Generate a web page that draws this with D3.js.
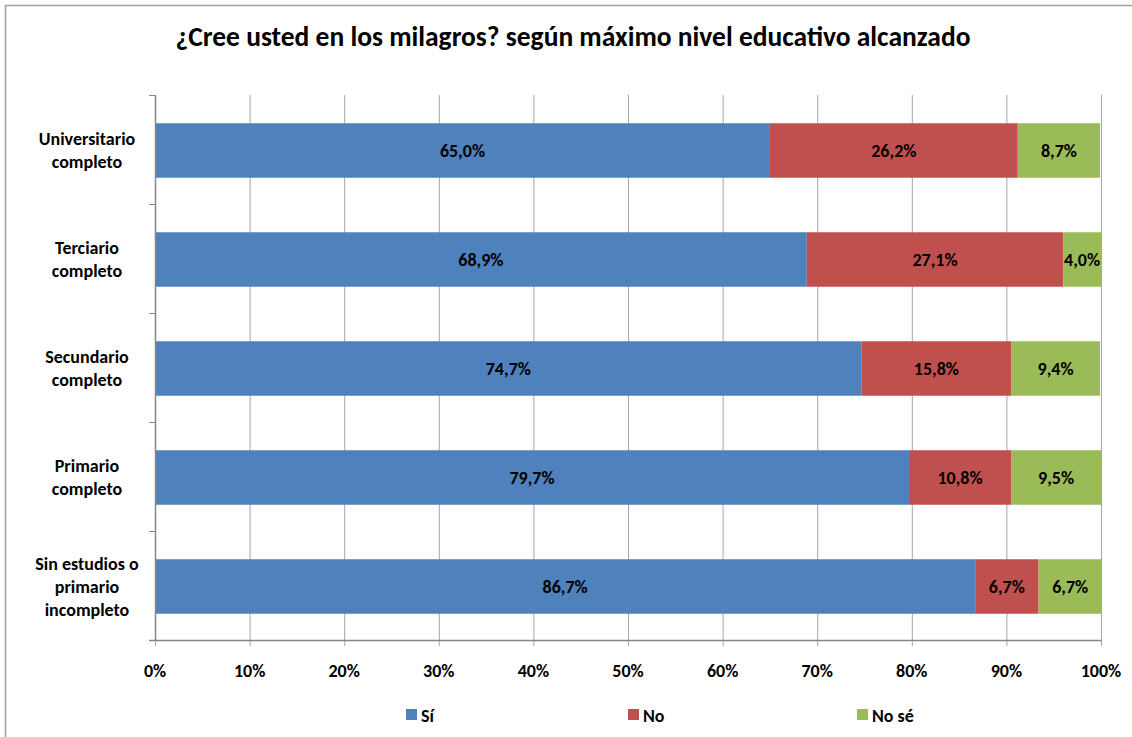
<!DOCTYPE html>
<html><head><meta charset="utf-8">
<script src="https://cdn.jsdelivr.net/npm/d3@7"></script>
<style>
body{margin:0;background:#fff;}
svg{display:block;font-family:Carlito,Calibri,Lato,"Open Sans",sans-serif;font-weight:bold;}
</style></head>
<body><svg id="c" width="1132" height="737"></svg>
<script>
const categories = [["Universitario","completo"],["Terciario","completo"],["Secundario","completo"],["Primario","completo"],["Sin estudios o","primario","incompleto"]];
const seriesNames = ["Sí","No","No sé"];
const si   = [65.0, 68.9, 74.7, 79.7, 86.7];
const no   = [26.2, 27.1, 15.8, 10.8, 6.7];
const nose = [8.7, 4.0, 9.4, 9.5, 6.7];
const colors = ["#4F81BD","#C0504D","#9BBB59"];
const xTicks = [0,10,20,30,40,50,60,70,80,90,100];
const title = "¿Cree usted en los milagros? según máximo nivel educativo alcanzado";

const svg = d3.select("#c");
svg.append("path").attr("d","M5.5,737 L5.5,5.5 L1132,5.5").attr("fill","none").attr("stroke","#A0A0A0").attr("stroke-width",1.5);

const L=155, R=1101, T=95, B=640;
const x = d3.scaleLinear().domain([0,100]).range([L,R]);
const idx = d3.range(categories.length);
const y = d3.scaleBand().domain(idx).range([T,B]).paddingInner(0.5).paddingOuter(0.25);

svg.append("text").attr("x",573).attr("y",46).attr("text-anchor","middle").attr("font-size",27.5).attr("fill","#000").text(title);

svg.append("g").selectAll("line").data(xTicks).join("line")
  .attr("x1",d=>x(d)+0.5).attr("x2",d=>x(d)+0.5).attr("y1",T).attr("y2",B+6)
  .attr("stroke","#A6A6A6").attr("stroke-width",1);

const data = idx.map(i=>({i, "Sí":si[i], "No":no[i], "No sé":nose[i]}));
const stack = d3.stack().keys(seriesNames)(data);
const g = svg.append("g");
stack.forEach((s,k)=>{
  g.selectAll(null).data(s).join("rect")
   .attr("x",d=>x(d[0])).attr("width",d=>x(d[1])-x(d[0]))
   .attr("y",d=>y(d.data.i)+1).attr("height",y.bandwidth())
   .attr("fill",colors[k]);
  g.selectAll(null).data(s).join("text")
   .attr("x",d=>(x(d[0])+x(d[1]))/2).attr("y",d=>y(d.data.i)+y.bandwidth()/2+7)
   .attr("text-anchor","middle").attr("font-size",18).attr("fill","#000")
   .text(d=>(d[1]-d[0]).toFixed(1).replace(".",",")+"%");
});

svg.append("line").attr("x1",L+0.5).attr("x2",L+0.5).attr("y1",T).attr("y2",B).attr("stroke","#868686").attr("stroke-width",1.5);
const yTickPos = d3.range(categories.length+1).map(k=>T+k*(B-T)/categories.length);
svg.append("g").selectAll("line").data(yTickPos).join("line")
  .attr("x1",L-6).attr("x2",L).attr("y1",d=>d+0.5).attr("y2",d=>d+0.5).attr("stroke","#868686");
svg.append("line").attr("x1",L-6).attr("x2",R+1).attr("y1",B+0.5).attr("y2",B+0.5).attr("stroke","#868686").attr("stroke-width",1.5);
svg.append("g").selectAll("text").data(xTicks).join("text")
  .attr("x",d=>x(d)).attr("y",677).attr("text-anchor","middle").attr("font-size",18).attr("fill","#000")
  .text(d=>d+"%");

idx.forEach(i=>{
  const lines = categories[i];
  const cy = y(i)+y.bandwidth()/2;
  const lh = 23;
  const t = svg.append("text").attr("text-anchor","middle").attr("font-size",18).attr("fill","#000");
  lines.forEach((ln,j)=>{
    t.append("tspan").attr("x",87).attr("y",cy + (j-(lines.length-1)/2)*lh + 7).text(ln);
  });
});

const legX = [406,628,857];
seriesNames.forEach((n,k)=>{
  svg.append("rect").attr("x",legX[k]).attr("y",709).attr("width",11).attr("height",11).attr("fill",colors[k]);
  svg.append("text").attr("x",legX[k]+15).attr("y",722).attr("font-size",18).attr("fill","#000").text(n);
});
</script></body></html>
